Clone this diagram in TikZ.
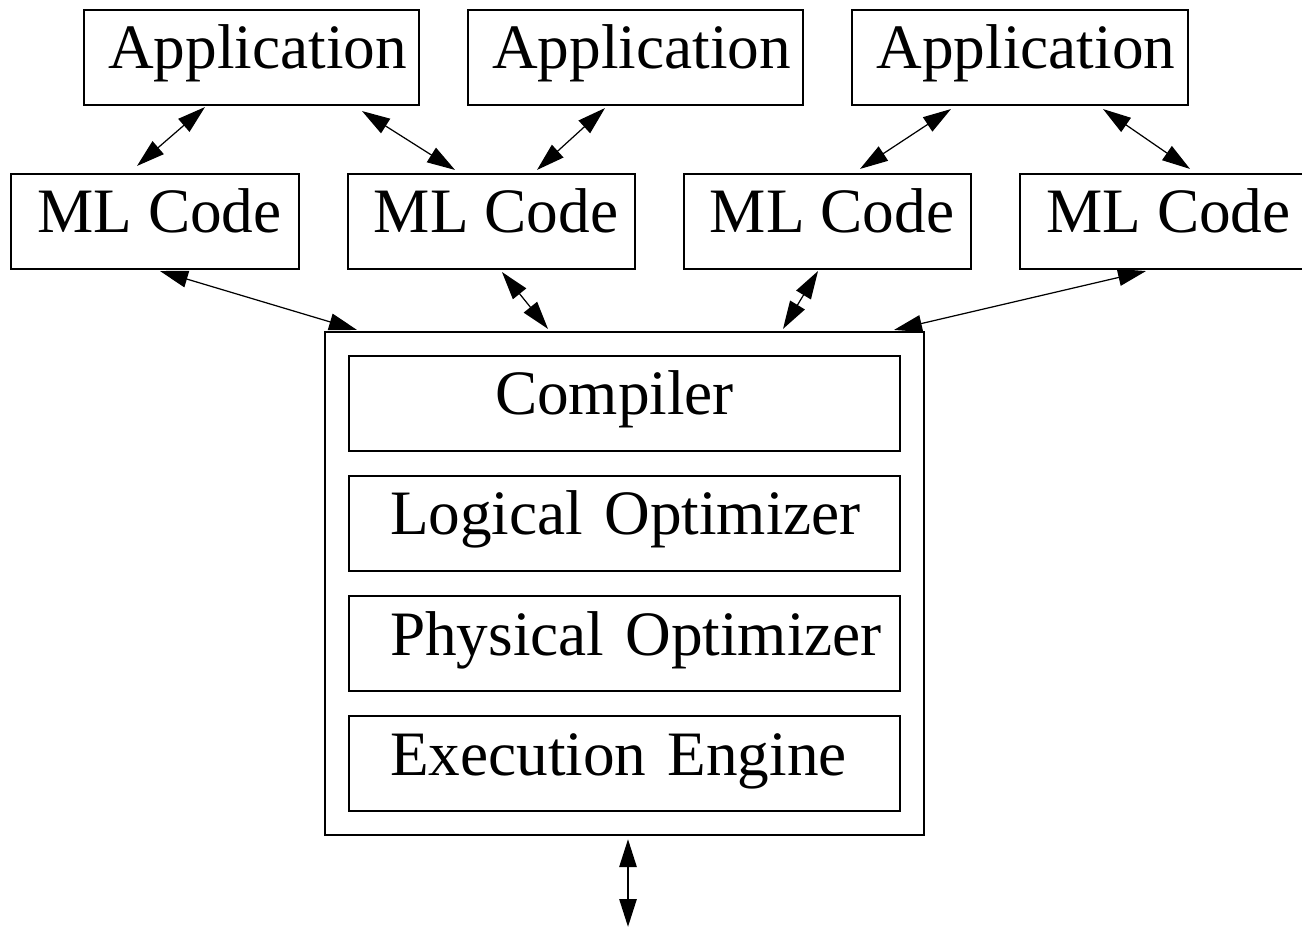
\documentclass[tikz,border=0pt]{standalone}
\usepackage{fontspec}
\setmainfont{Liberation Serif}
\usetikzlibrary{arrows.meta}

\begin{document}
\begin{tikzpicture}[box/.style={draw,line width=0.6pt,inner ysep=0pt,text height=0.59cm,text depth=0.36cm,font=\fontsize{18pt}{20pt}\selectfont},
	layer/.style={box,minimum width=5.51cm,text width=4.69cm,inner xsep=0.41cm,align=left},
	link/.style={{Triangle[length=0.28cm,width=0.17cm]}-{Triangle[length=0.28cm,width=0.17cm]},line width=0.35pt}]
\useasboundingbox (0,0) rectangle (13.02,-9.27);
\node [box,minimum width=3.35cm] (app1) at (2.515,-0.575) {\hspace*{0.12cm}Application};
\node [box,minimum width=3.35cm] (app2) at (6.355,-0.575) {\hspace*{0.12cm}Application};
\node [box,minimum width=3.36cm] (app3) at (10.20,-0.575) {\hspace*{0.12cm}Application};
\node [box,minimum width=2.88cm] (ml1) at (1.55,-2.215) {\hspace*{0.09cm}ML Code};
\node [box,minimum width=2.87cm] (ml2) at (4.915,-2.215) {\hspace*{0.09cm}ML Code};
\node [box,minimum width=2.87cm] (ml3) at (8.275,-2.215) {\hspace*{0.09cm}ML Code};
\node [box,minimum width=2.88cm] (ml4) at (11.64,-2.215) {\hspace*{0.09cm}ML Code};
\node [draw,line width=0.6pt,minimum width=5.99cm,minimum height=5.03cm] (core) at (6.245,-5.835) {};
\node [layer,align=center] (comp) at (6.245,-4.035) {\mbox{Compiler\hspace{0.2cm}}};
\node [layer] (lopt) at (6.245,-5.235) {\mbox{Logical Optimizer}};
\node [layer] (popt) at (6.245,-6.435) {\mbox{Physical Optimizer}};
\node [layer] (exec) at (6.245,-7.635) {\mbox{Execution Engine}};
\coordinate (data) at (6.28,-9.27);
\draw [link] ([xshift=-0.465cm,yshift=-0.01cm]app1.south) -- ([xshift=-0.18cm,yshift=0.07cm]ml1.north);
\draw [link] ([xshift=1.105cm,yshift=-0.05cm]app1.south) -- ([xshift=-0.365cm,yshift=0.03cm]ml2.north);
\draw [link] ([xshift=-0.305cm,yshift=-0.02cm]app2.south) -- ([xshift=0.455cm,yshift=0.03cm]ml2.north);
\draw [link] ([xshift=-0.69cm,yshift=-0.03cm]app3.south) -- ([xshift=0.325cm,yshift=0.04cm]ml3.north);
\draw [link] ([xshift=0.83cm,yshift=-0.03cm]app3.south) -- ([xshift=0.26cm,yshift=0.04cm]ml4.north);
\draw [link] ([xshift=0.05cm,yshift=-0.01cm]ml1.south) -- ([xshift=-2.675cm,yshift=0.01cm]core.north);
\draw [link] ([xshift=0.105cm,yshift=-0.02cm]ml2.south) -- ([xshift=-0.765cm,yshift=0.02cm]core.north);
\draw [link] ([xshift=-0.095cm,yshift=-0.01cm]ml3.south) -- ([xshift=1.585cm,yshift=0.02cm]core.north);
\draw [link] ([xshift=-0.18cm,yshift=-0.01cm]ml4.south) -- ([xshift=2.695cm,yshift=0.01cm]core.north);
\draw [link,line width=0.8pt] ([xshift=0.035cm,yshift=-0.03cm]core.south) -- (data);
\end{tikzpicture}
\end{document}
